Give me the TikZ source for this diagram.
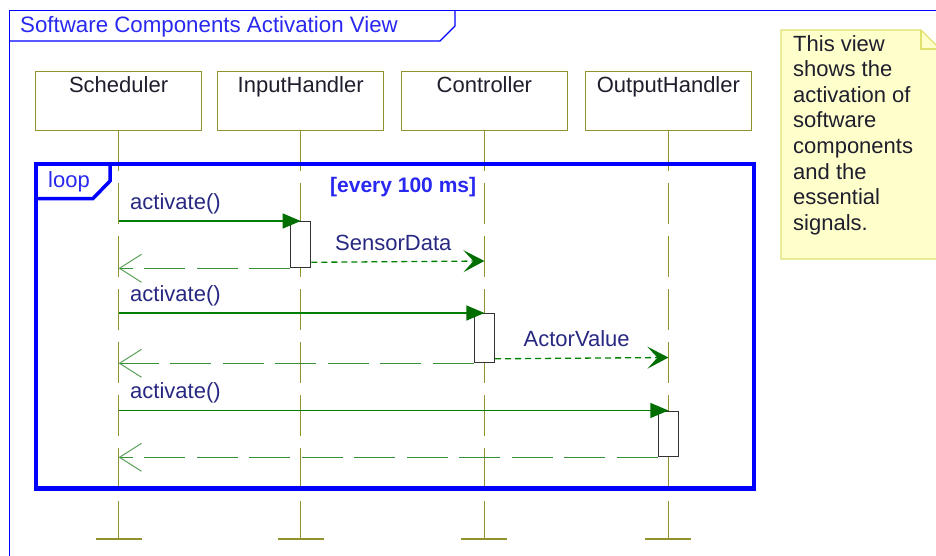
\documentclass[tikz,border=0pt]{standalone}
\usepackage{fontspec}
\setmainfont{Liberation Sans}
\usetikzlibrary{arrows.meta}

\definecolor{frameblue}{RGB}{0,0,255}
\definecolor{titleblue}{RGB}{40,40,240}
\definecolor{lifeolive}{RGB}{145,145,45}
\definecolor{msggreen}{RGB}{0,128,0}
\definecolor{retgreen}{RGB}{55,145,55}
\definecolor{tipgreen}{RGB}{0,110,0}
\definecolor{barbgreen}{RGB}{90,160,90}
\definecolor{lblnavy}{RGB}{40,40,130}
\definecolor{hdrtext}{RGB}{30,30,45}
\definecolor{notefill}{RGB}{255,255,204}
\definecolor{noteline}{RGB}{225,225,110}
\definecolor{actgray}{RGB}{50,50,50}

\tikzset{
  x=1pt, y=-1pt,
  base font/.style={font=\fontsize{22}{25.6}\selectfont},
  hdr/.style={base font, draw=lifeolive, line width=1.4pt, fill=white,
    text=hdrtext, minimum width=166pt, text height=16pt, text depth=33pt,
    inner ysep=5pt, anchor=north},
  lifeline/.style={draw=lifeolive, line width=1.4pt, dash pattern=on 41pt off 12pt},
  endbar/.style={draw=lifeolive, line width=2pt},
  act/.style={draw=actgray, line width=1.3pt, fill=white, minimum width=20pt,
    inner sep=0pt, anchor=north},
  msg/.style={draw=msggreen, line width=1.2pt,
    -{Triangle[length=18pt,width=15pt,color=tipgreen]}},
  ret/.style={draw=retgreen, line width=1.6pt, dash pattern=on 41pt off 11.5pt,
    -{Straight Barb[length=22pt,width=28pt,line width=1pt,color=barbgreen]}},
  sig/.style={draw=msggreen, line width=1.3pt, dash pattern=on 6pt off 4pt,
    -{Stealth[length=21pt,width=22pt,inset=10pt,color=tipgreen]}},
  lbl/.style={base font, text=lblnavy, inner sep=0pt, anchor=base west},
  frameline/.style={draw=frameblue, line width=1.2pt},
  loopline/.style={draw=frameblue, line width=4.5pt},
}

\begin{document}
\begin{tikzpicture}
\useasboundingbox (0,0) rectangle (936,556);

% diagram frame and its title tab
\draw[frameline] (9.5,556) -- (9.5,10.5) -- (936,10.5);
\draw[frameline] (9.5,41) -- (440,41) -- (455,26) -- (455,10.5);
\node[font=\fontsize{22.3}{25.6}\selectfont, text=titleblue, inner sep=0pt, anchor=base west]
  (title) at (20,33) {Software Components Activation View};

% lifeline ends
\coordinate (schEnd) at (118.6,539);
\coordinate (inpEnd) at (300.7,539);
\coordinate (ctlEnd) at (484.4,539);
\coordinate (outEnd) at (668.4,539);

% lifelines
\draw[lifeline] (118.6,130) -- (schEnd);
\draw[lifeline] (300.7,130) -- (inpEnd);
\draw[lifeline] (484.4,130) -- (ctlEnd);
\draw[lifeline] (668.4,130) -- (outEnd);
\foreach \e in {schEnd,inpEnd,ctlEnd,outEnd}
  \draw[endbar] ([xshift=-23pt]\e) -- ([xshift=23pt]\e);

% lifeline heads
\node[hdr] (sch) at (118.6,71) {Scheduler};
\node[hdr] (inp) at (300.7,71) {InputHandler};
\node[hdr] (ctl) at (484.4,71) {Controller};
\node[hdr] (out) at (668.4,71) {OutputHandler};

% combined fragment: loop
\draw[loopline] (36,164) rectangle (754,488.5);
\draw[loopline, line width=3.5pt] (36,198.5) -- (93,198.5) -- (110,181) -- (110,164);
\node[base font, text=titleblue, inner sep=0pt, anchor=base west] (looplbl) at (48,187) {loop};
\node[font=\fontsize{21}{24}\selectfont\bfseries, text=titleblue, inner sep=0pt,
  anchor=base west] (guard) at (330,193) {[every 100 ms]};

% activations
\node[act, minimum height=46pt] (inpAct) at (300.7,221) {};
\node[act, minimum height=49pt] (ctlAct) at (484.4,313) {};
\node[act, minimum height=45.5pt] (outAct) at (668.4,410.5) {};

% message sources on the Scheduler lifeline
\coordinate (s1) at (118.6,221);
\coordinate (s2) at (118.6,313);
\coordinate (s3) at (118.6,410.5);
\coordinate (sdEnd) at (484.4,261);
\coordinate (avEnd) at (668.4,357.5);

% activate calls
\draw[msg] (s1) -- (inpAct.north);
\node[lbl] (m1) at (130,209) {activate()};
\draw[msg] (s2) -- (ctlAct.north);
\node[lbl] (m2) at (130,301) {activate()};
\draw[msg] (s3) -- (outAct.north);
\node[lbl] (m3) at (130,398.5) {activate()};

% returns
\draw[ret] (inpAct.south west) -- (s1 |- inpAct.south);
\draw[ret] (ctlAct.south west) -- (s2 |- ctlAct.south);
\draw[ret] (outAct.south west) -- (s3 |- outAct.south);

% signals
\draw[sig] (inpAct.south east) ++(0,-6) -- (sdEnd);
\node[lbl] (sd) at (335,250) {SensorData};
\draw[sig] (ctlAct.south east) ++(0,-4.5) -- (avEnd);
\node[lbl] (av) at (523.5,346.5) {ActorValue};

% note
\fill[notefill] (781,30) -- (921,30) -- (940,49) -- (940,259) -- (781,259) -- cycle;
\draw[noteline, line width=1.3pt] (781,30) -- (921,30) -- (940,49) -- (940,259) -- (781,259) -- cycle;
\draw[noteline, line width=1.3pt] (921,30) -- (921,49) -- (940,49);
\node[base font, text=hdrtext, inner sep=0pt, anchor=north west, align=left] (note) at (793,35)
  {This view\\shows the\\activation of\\software\\components\\and the\\essential\\signals.};
\end{tikzpicture}
\end{document}
